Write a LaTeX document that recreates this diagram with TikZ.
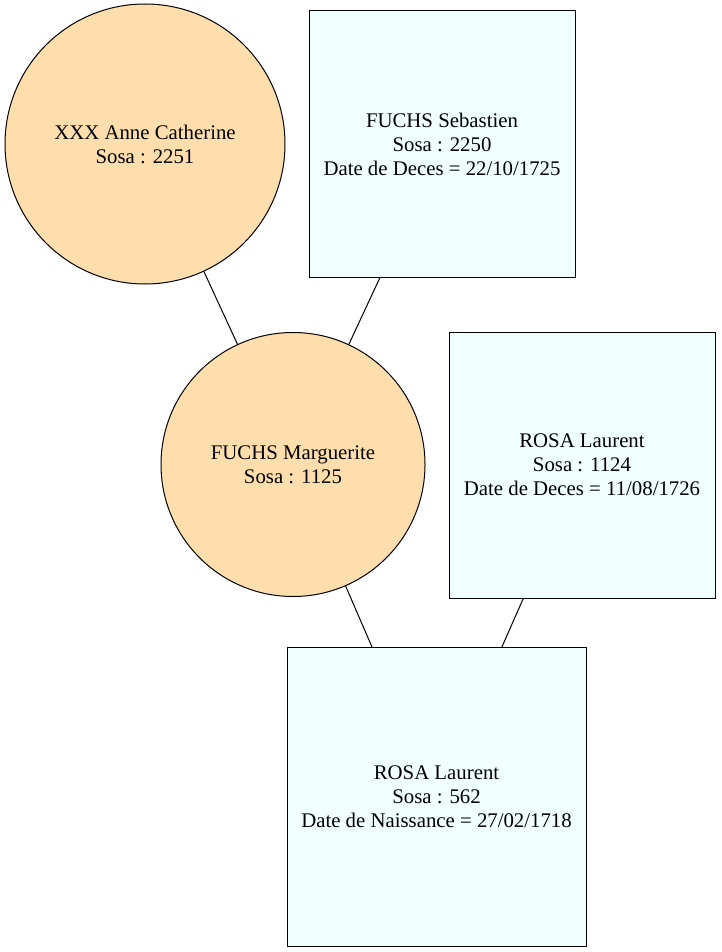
\documentclass[tikz,border=0pt]{standalone}
\usepackage{fontspec}
\setmainfont{Liberation Serif}
\definecolor{navajo}{HTML}{FFDEAD}
\definecolor{azurefill}{HTML}{F0FFFF}
\begin{document}
\begin{tikzpicture}[x=1pt,y=-1pt,
  every node/.style={font=\fontsize{20.8}{24}\selectfont, align=center, inner sep=0pt, outer sep=0pt, line width=1pt},
  person/.style={circle, draw=black, fill=navajo},
  record/.style={rectangle, draw=black, fill=azurefill},
  link/.style={draw=black, line width=1pt}]
\useasboundingbox[fill=white] (0,0) rectangle (721,952);

% ancestors
\node[person, minimum size=280pt] (anne) at (145,144) {XXX Anne Catherine\\Sosa : 2251};
\node[record, minimum width=266pt, minimum height=266pt] (sebastien) at (442,144) {FUCHS Sebastien\\Sosa : 2250\\Date de Deces = 22/10/1725};
\node[person, minimum size=264pt] (marguerite) at (293,464.5) {FUCHS Marguerite\\Sosa : 1125};
\node[record, minimum width=266pt, minimum height=266pt] (laurentA) at (582,465) {ROSA Laurent\\Sosa : 1124\\Date de Deces = 11/08/1726};
\node[record, minimum width=299pt, minimum height=299pt] (laurentB) at (436.5,796.5) {ROSA Laurent\\Sosa : 562\\Date de Naissance = 27/02/1718};

% parent links
\draw[link] (anne) -- (marguerite);
\draw[link] (sebastien) -- (marguerite);
\draw[link] (marguerite) -- (laurentB);
\draw[link] (laurentA) -- (laurentB);
\end{tikzpicture}
\end{document}
